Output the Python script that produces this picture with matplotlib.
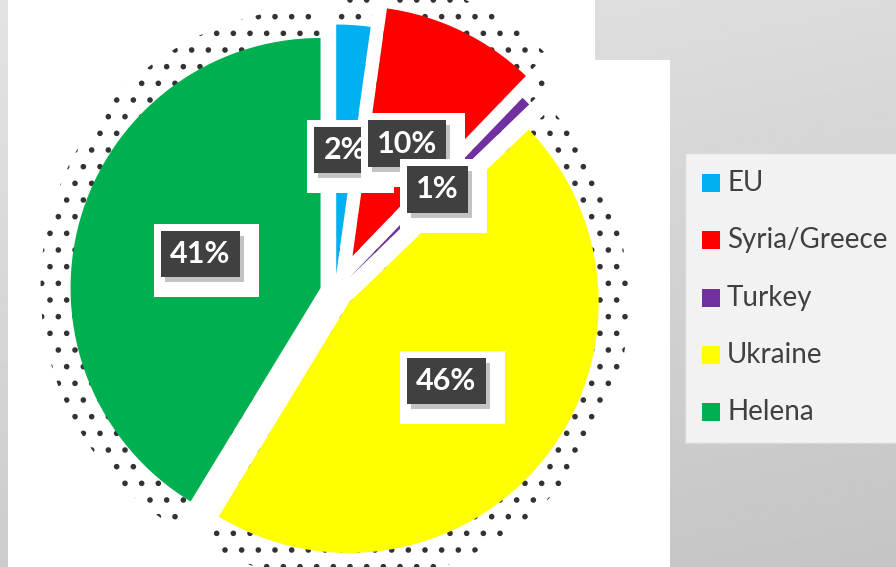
import numpy as np
import matplotlib.pyplot as plt
from matplotlib.patches import Rectangle
from matplotlib.transforms import IdentityTransform

labels = ['EU', 'Syria/Greece', 'Turkey', 'Ukraine', 'Helena']
shares = [2.2, 10.0, 0.6, 45.9, 41.3]
colors = ['#00b0f0', '#ff0000', '#7030a0', '#ffff00', '#00b050']
explode = [0.07, 0.16, 0.08, 0.07, 0.06]

W, H = 896, 567
fig = plt.figure(figsize=(W / 100, H / 100), dpi=100)
plt.rcParams['hatch.linewidth'] = 1.6

# background: grey gradient, white chart area
bg = fig.add_axes([0, 0, 1, 1])
bg.set_xlim(0, W)
bg.set_ylim(H, 0)
bg.axis('off')
yy, xx = np.mgrid[0:1:300j, 0:1:300j]
grad = 0.89 - 0.09 * yy - 0.03 * xx
bg.imshow(grad, cmap='gray', vmin=0, vmax=1, extent=(0, W, H, 0), aspect='auto')
bg.add_patch(Rectangle((8, 0), 587, H, fc='white', ec='none'))
bg.add_patch(Rectangle((595, 60), 75, H - 60, fc='white', ec='none'))

# legend drawn by hand
bg.add_patch(Rectangle((685, 153), 215, 290, fc='#f2f2f2', ec='#d9d9d9', lw=1))
for i, (lab, col) in enumerate(zip(labels, colors)):
    y = 183 + 57.3 * i
    bg.add_patch(Rectangle((702, y - 9), 18, 18, fc=col, ec='none'))
    bg.text(727, y, lab, fontsize=20, family='Lato', color='#404040',
            va='center', ha='left')

# pie
ax = fig.add_axes([0, 0, 1, 1])
ax.patch.set_alpha(0)


def pct(p):
    return '%d%%' % round(p)


# halftone shadow behind wedges
sh, _ = ax.pie(shares, explode=explode, startangle=90, counterclock=False,
               radius=1.12, colors=['none'] * 5)
for w in sh:
    w.set_facecolor('none')
    w.set_edgecolor('#333333')
    w.set_linewidth(0)
    w.set_hatch('.')
    w.set_zorder(0)

wedges, texts, autotexts = ax.pie(shares, explode=explode, colors=colors,
                                  startangle=90, counterclock=False,
                                  autopct=pct, pctdistance=0.5,
                                  wedgeprops=dict(linewidth=0))
for i, t in enumerate(autotexts):
    t.set(fontsize=22, weight='bold', family='Lato', color='white', zorder=5 + 3 * i + 2,
          bbox=dict(boxstyle='square,pad=0.3', fc='#404040', ec='none'))

ax.set_xlim(-335 / 250, (W - 335) / 250)
ax.set_ylim(-(H - 292) / 250, 292 / 250)
ax.set_aspect('auto')
ax.axis('off')

# white frame + soft shadow behind each dark label box
fig.canvas.draw()
for i, t in enumerate(autotexts):
    bb = t.get_bbox_patch().get_window_extent()
    z = 5 + 3 * i
    ax.add_patch(Rectangle((bb.x0 - 7, bb.y0 - 20), bb.width + 26, bb.height + 27,
                           fc='white', ec='none', transform=IdentityTransform(), zorder=z))
    ax.add_patch(Rectangle((bb.x0 + 4, bb.y0 - 5), bb.width, bb.height,
                           fc='#b5b5b5', ec='none', alpha=0.8,
                           transform=IdentityTransform(), zorder=z + 1))

fig.savefig('out.png', dpi=100)
